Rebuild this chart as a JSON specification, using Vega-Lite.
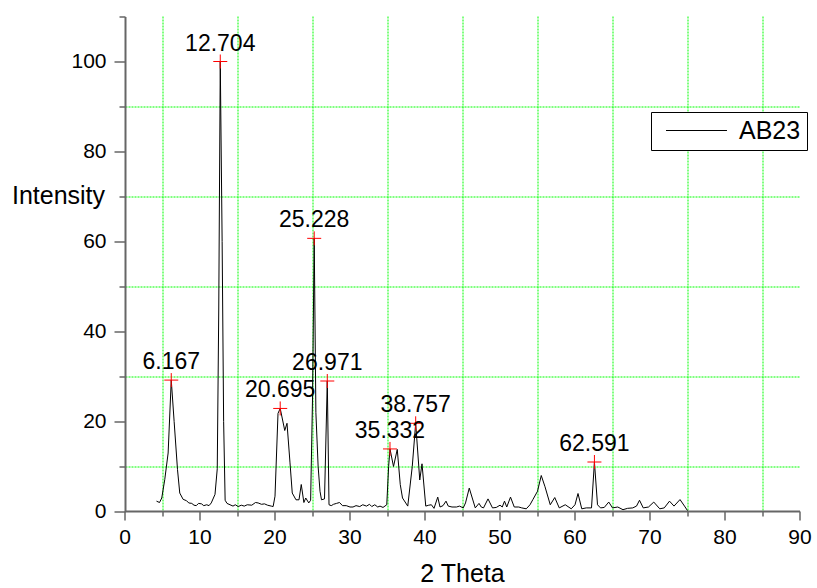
{
  "$schema": "https://vega.github.io/schema/vega-lite/v6.json",
  "autosize": "none",
  "width": 675,
  "height": 495,
  "padding": {"left": 125, "top": 16.5, "right": 17, "bottom": 76.5},
  "background": "white",
  "config": {"font": "Liberation Sans", "view": {"stroke": null}},
  "datasets": {
    "xrd": [
      {"t": 4.2, "i": 2.3}, {"t": 4.6, "i": 2.0}, {"t": 4.9, "i": 3.0}, {"t": 5.3, "i": 7.1}, {"t": 5.75, "i": 13},
      {"t": 6.167, "i": 29.2}, {"t": 6.55, "i": 20}, {"t": 7.0, "i": 9.3}, {"t": 7.3, "i": 4.1}, {"t": 7.75, "i": 2.7},
      {"t": 8.2, "i": 2.4}, {"t": 8.5, "i": 1.9}, {"t": 8.9, "i": 1.8}, {"t": 9.2, "i": 1.4}, {"t": 9.5, "i": 1.3},
      {"t": 9.8, "i": 1.8}, {"t": 10.2, "i": 1.7}, {"t": 10.5, "i": 1.3}, {"t": 10.9, "i": 1.5}, {"t": 11.2, "i": 1.3},
      {"t": 11.5, "i": 1.9}, {"t": 12.0, "i": 3.8}, {"t": 12.3, "i": 9.5}, {"t": 12.5, "i": 45}, {"t": 12.704, "i": 100},
      {"t": 12.95, "i": 60}, {"t": 13.15, "i": 20}, {"t": 13.35, "i": 2.5}, {"t": 13.6, "i": 1.8}, {"t": 14.0, "i": 1.5},
      {"t": 14.4, "i": 1.2}, {"t": 14.7, "i": 1.5}, {"t": 15.1, "i": 1.1}, {"t": 15.5, "i": 1.4}, {"t": 15.9, "i": 1.2},
      {"t": 16.3, "i": 1.5}, {"t": 16.9, "i": 1.4}, {"t": 17.4, "i": 2.0}, {"t": 17.75, "i": 1.9}, {"t": 18.2, "i": 1.6},
      {"t": 18.6, "i": 1.7}, {"t": 19.0, "i": 1.4}, {"t": 19.5, "i": 1.2}, {"t": 19.75, "i": 1.1}, {"t": 20.0, "i": 3.4},
      {"t": 20.4, "i": 21.8}, {"t": 20.695, "i": 22.9}, {"t": 21.3, "i": 18}, {"t": 21.6, "i": 19.6}, {"t": 22.0, "i": 10.8},
      {"t": 22.3, "i": 4.1}, {"t": 22.8, "i": 2.6}, {"t": 23.2, "i": 2.6}, {"t": 23.5, "i": 6.0}, {"t": 23.85, "i": 2.0},
      {"t": 24.1, "i": 3.0}, {"t": 24.5, "i": 1.9}, {"t": 24.75, "i": 2.5}, {"t": 25.0, "i": 25}, {"t": 25.228, "i": 60.7},
      {"t": 25.45, "i": 22}, {"t": 25.75, "i": 10}, {"t": 26.0, "i": 4.5}, {"t": 26.2, "i": 2.6}, {"t": 26.6, "i": 2.8},
      {"t": 26.971, "i": 29}, {"t": 27.2, "i": 1.5}, {"t": 27.5, "i": 1.3}, {"t": 27.8, "i": 1.6}, {"t": 28.2, "i": 1.8},
      {"t": 28.6, "i": 2.0}, {"t": 29.0, "i": 1.3}, {"t": 29.5, "i": 1.3}, {"t": 30.0, "i": 1.0}, {"t": 30.4, "i": 1.0},
      {"t": 30.8, "i": 1.3}, {"t": 31.3, "i": 1.1}, {"t": 31.7, "i": 1.5}, {"t": 32.2, "i": 1.2}, {"t": 32.6, "i": 1.6},
      {"t": 32.9, "i": 1.1}, {"t": 33.3, "i": 1.5}, {"t": 33.7, "i": 1.0}, {"t": 34.0, "i": 1.2}, {"t": 34.4, "i": 0.9},
      {"t": 34.9, "i": 1.5}, {"t": 35.15, "i": 10}, {"t": 35.332, "i": 13.9}, {"t": 35.8, "i": 10}, {"t": 36.3, "i": 13.8},
      {"t": 36.7, "i": 6}, {"t": 37.0, "i": 3.0}, {"t": 37.7, "i": 1.2}, {"t": 38.3, "i": 10}, {"t": 38.757, "i": 19.6},
      {"t": 39.3, "i": 7.0}, {"t": 39.6, "i": 10.6}, {"t": 40.1, "i": 1.2}, {"t": 40.5, "i": 1.4}, {"t": 40.85, "i": 1.5},
      {"t": 41.2, "i": 0.7}, {"t": 41.7, "i": 3.2}, {"t": 42.0, "i": 1.0}, {"t": 42.4, "i": 1.3}, {"t": 42.8, "i": 2.3},
      {"t": 43.1, "i": 1.2}, {"t": 43.6, "i": 1.0}, {"t": 44.2, "i": 1.0}, {"t": 44.6, "i": 1.2}, {"t": 45.1, "i": 0.8},
      {"t": 45.4, "i": 1.9}, {"t": 45.9, "i": 5.2}, {"t": 46.3, "i": 3.0}, {"t": 46.7, "i": 0.8}, {"t": 47.2, "i": 1.8},
      {"t": 47.5, "i": 1.0}, {"t": 47.8, "i": 0.8}, {"t": 48.4, "i": 2.8}, {"t": 49.0, "i": 0.8}, {"t": 49.5, "i": 0.9},
      {"t": 50.0, "i": 1.4}, {"t": 50.3, "i": 1.0}, {"t": 50.6, "i": 2.3}, {"t": 50.9, "i": 1.0}, {"t": 51.4, "i": 3.2},
      {"t": 51.9, "i": 1.0}, {"t": 52.5, "i": 1.0}, {"t": 52.9, "i": 0.8}, {"t": 53.5, "i": 0.6}, {"t": 54.0, "i": 1.5},
      {"t": 54.4, "i": 2.7}, {"t": 55.0, "i": 4.5}, {"t": 55.5, "i": 8.0}, {"t": 56.0, "i": 5.5}, {"t": 56.7, "i": 1.5},
      {"t": 57.3, "i": 3.1}, {"t": 57.9, "i": 0.8}, {"t": 58.7, "i": 1.5}, {"t": 59.5, "i": 0.6}, {"t": 60.0, "i": 1.5},
      {"t": 60.4, "i": 4.0}, {"t": 60.9, "i": 0.6}, {"t": 61.5, "i": 0.8}, {"t": 62.2, "i": 0.8}, {"t": 62.591, "i": 11.0},
      {"t": 63.0, "i": 1.5}, {"t": 63.4, "i": 0.8}, {"t": 63.9, "i": 0.9}, {"t": 64.5, "i": 2.1}, {"t": 65.0, "i": 0.8},
      {"t": 65.7, "i": 1.0}, {"t": 66.4, "i": 0.4}, {"t": 67.0, "i": 0.7}, {"t": 67.7, "i": 0.8}, {"t": 68.2, "i": 1.2},
      {"t": 68.6, "i": 2.5}, {"t": 69.1, "i": 0.8}, {"t": 69.8, "i": 1.0}, {"t": 70.5, "i": 2.1}, {"t": 71.3, "i": 0.6},
      {"t": 71.9, "i": 0.8}, {"t": 72.6, "i": 2.3}, {"t": 73.2, "i": 1.2}, {"t": 74.0, "i": 2.65}, {"t": 74.6, "i": 1.2},
      {"t": 75.0, "i": 0.2}
    ],
    "peaks": [
      {"t": 6.167, "i": 29.2, "label": "6.167"},
      {"t": 12.704, "i": 100, "label": "12.704"},
      {"t": 20.695, "i": 22.9, "label": "20.695"},
      {"t": 25.228, "i": 60.7, "label": "25.228"},
      {"t": 26.971, "i": 29, "label": "26.971"},
      {"t": 35.332, "i": 13.9, "label": "35.332"},
      {"t": 38.757, "i": 19.6, "label": "38.757"},
      {"t": 62.591, "i": 11.0, "label": "62.591"}
    ]
  },
  "encoding": {
    "x": {
      "field": "t", "type": "quantitative",
      "scale": {"domain": [0, 90], "nice": false, "zero": false},
      "axis": {
        "values": [0, 5, 10, 15, 20, 25, 30, 35, 40, 45, 50, 55, 60, 65, 70, 75, 80, 85, 90],
        "translate": 0,
        "title": "2 Theta",
        "titleFontSize": 25, "titleFontWeight": "normal", "titleColor": "black",
        "titleY": 70, "titleBaseline": "alphabetic",
        "labelExpr": "datum.value % 10 === 0 ? datum.label : ''",
        "labelFontSize": 21, "labelColor": "black", "labelPadding": 6,
        "labelFlush": false, "labelOverlap": false,
        "tickSize": {"condition": {"test": "datum.value % 10 === 0", "value": 9}, "value": 5},
        "tickColor": "#666666", "tickWidth": 1.5,
        "domainColor": "#666666", "domainWidth": 2,
        "grid": true, "gridColor": "#00ff00", "gridDash": [2, 1], "gridWidth": 1,
        "gridOpacity": {"condition": {"test": "datum.value % 10 === 0", "value": 0}, "value": 1}
      }
    },
    "y": {
      "field": "i", "type": "quantitative",
      "scale": {"domain": [0, 110], "nice": false},
      "axis": {
        "values": [0, 10, 20, 30, 40, 50, 60, 70, 80, 90, 100, 110],
        "title": "Intensity",
        "titleFontSize": 25, "titleFontWeight": "normal", "titleColor": "black",
        "titleAngle": 0, "titleX": -67, "titleY": 187, "titleAlign": "center", "titleBaseline": "alphabetic",
        "labelExpr": "datum.value % 20 === 0 && datum.value <= 100 ? datum.label : ''",
        "labelFontSize": 21, "labelColor": "black", "labelPadding": 8, "labelOverlap": false, "labelFlush": false,
        "tickSize": {"condition": {"test": "datum.value % 20 === 0 && datum.value <= 100", "value": 11}, "value": 6},
        "tickColor": "#666666", "tickWidth": 1.5,
        "domainColor": "#666666", "domainWidth": 2,
        "grid": true, "gridColor": "#00ff00", "gridDash": [2, 1], "gridWidth": 1,
        "gridOpacity": {"condition": {"test": "datum.value % 20 === 0 || datum.value > 100", "value": 0}, "value": 1}
      }
    }
  },
  "layer": [
    {
      "data": {"name": "xrd"},
      "mark": {"type": "line", "strokeWidth": 1, "interpolate": "linear"},
      "encoding": {
        "color": {
          "datum": "AB23", "type": "nominal",
          "scale": {"range": ["black"]},
          "legend": {
            "orient": "none", "legendX": 526, "legendY": 95.5,
            "title": null,
            "labelFontSize": 25, "labelColor": "black", "labelFont": "Liberation Sans",
            "symbolType": "M-3,0H3", "symbolSize": 413, "symbolStrokeWidth": 1, "symbolStrokeColor": "black",
            "symbolOffset": 27, "labelOffset": 30,
            "padding": 6, "strokeColor": "black", "fillColor": "white", "cornerRadius": 0
          }
        }
      }
    },
    {
      "data": {"name": "peaks"},
      "mark": {"type": "point", "shape": "M-1,0H1M0,-1V1", "size": 196, "filled": false, "stroke": "red", "strokeWidth": 1, "opacity": 1}
    },
    {
      "data": {"name": "peaks"},
      "mark": {"type": "text", "fontSize": 23, "color": "black", "align": "center", "baseline": "alphabetic", "dy": -11},
      "encoding": {
        "text": {"field": "label"}
      }
    }
  ]
}
